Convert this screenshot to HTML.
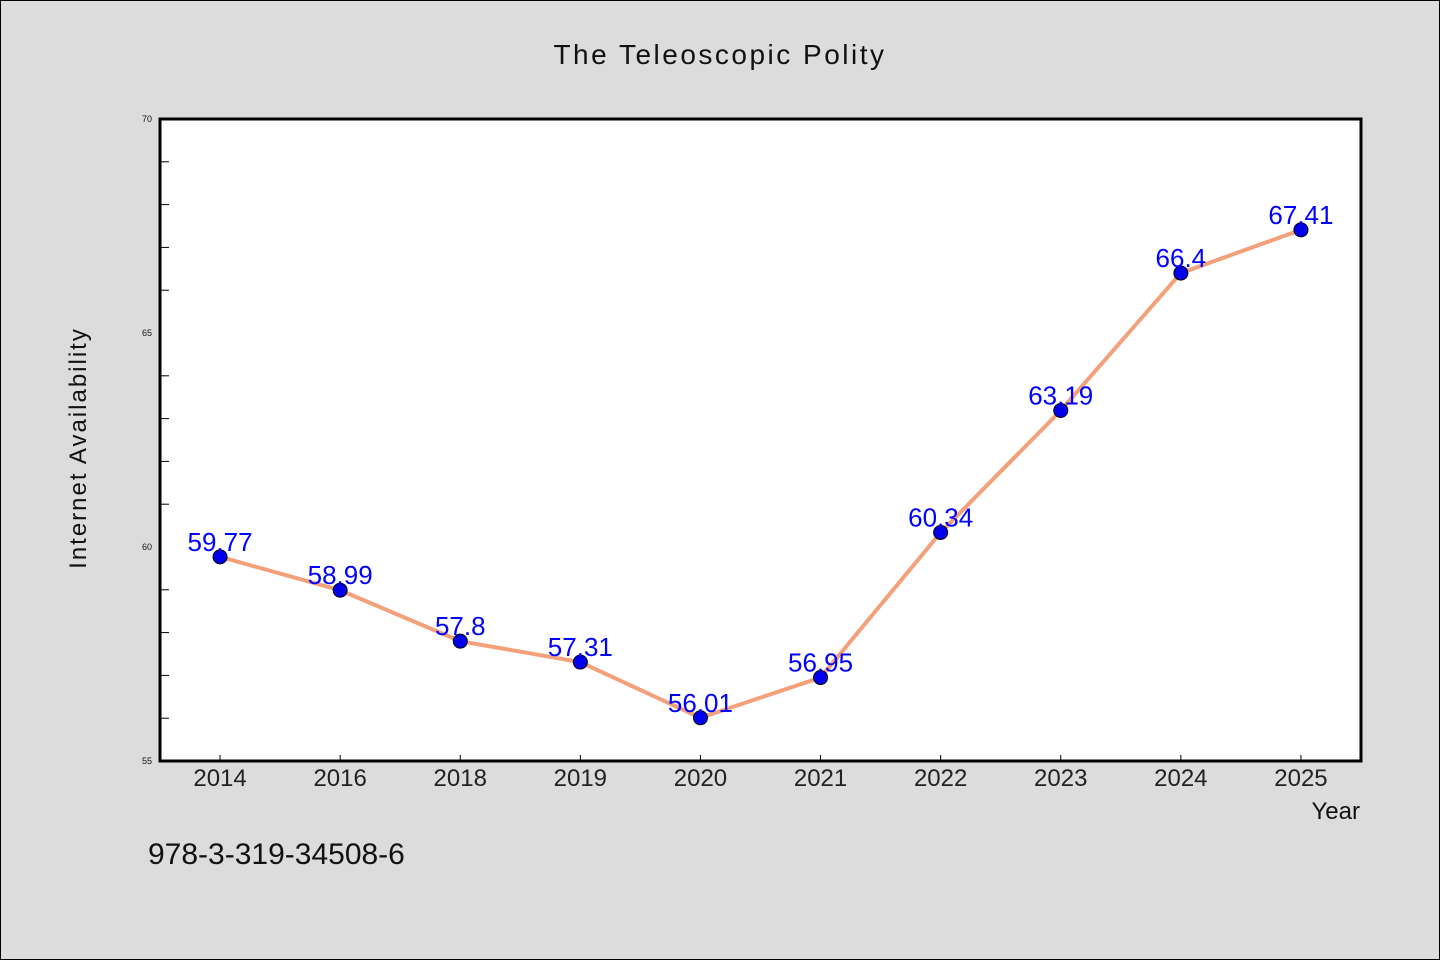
<!DOCTYPE html>
<html><head><meta charset="utf-8"><style>
body{margin:0;background:#dcdcdc;}
svg{display:block;font-family:"WenQuanYi Zen Hei","Liberation Sans",sans-serif;}
</style></head><body>
<svg id="chart" width="1440" height="960" xmlns="http://www.w3.org/2000/svg">
<rect x="0.5" y="0.5" width="1439" height="959" fill="#dcdcdc" stroke="#000"/>
<text x="720" y="64" text-anchor="middle" font-size="28" letter-spacing="2.5" fill="#111">The Teleoscopic Polity</text>
<rect x="160" y="119" width="1201" height="642" fill="#fff"/>
<g id="axes"></g>
<g id="marks"></g>
<rect x="160" y="119" width="1201" height="642" fill="none" stroke="#000" stroke-width="3"/>
<text x="86" y="448" text-anchor="middle" font-size="24" letter-spacing="2" fill="#111" transform="rotate(-90 86 448)">Internet Availability</text>
<text x="1360" y="819" text-anchor="end" font-size="24" fill="#111">Year</text>
<text x="148" y="864" font-size="30" fill="#111">978-3-319-34508-6</text>
</svg>
<script>
const categories=["2014","2016","2018","2019","2020","2021","2022","2023","2024","2025"];
const values=[59.77,58.99,57.8,57.31,56.01,56.95,60.34,63.19,66.4,67.41];
const valueLabels=["59.77","58.99","57.8","57.31","56.01","56.95","60.34","63.19","66.4","67.41"];
const yTicks=[55,60,65,70];
const yMin=55,yMax=70,L=160,R=1361,T=119,B=761;
const NS="http://www.w3.org/2000/svg";
function xs(i){return L+(R-L)/categories.length*(i+0.5);}
function ys(v){return B-(v-yMin)/(yMax-yMin)*(B-T);}
function mk(tag,attrs,parent){const e=document.createElementNS(NS,tag);for(const k in attrs)e.setAttribute(k,attrs[k]);parent.appendChild(e);return e;}
const axes=document.getElementById('axes'),marks=document.getElementById('marks');
for(let v=yMin+1;v<yMax;v++){
  if(yTicks.includes(v))continue;
  const t=mk('line',{x1:L,x2:L+9,y1:ys(v),y2:ys(v),stroke:'#000','stroke-width':1},axes);
  
  
}
yTicks.forEach(v=>{
  const t=mk('text',{x:L-8,y:ys(v)+3,'text-anchor':'end','font-size':9,fill:'#111'},axes);
  t.textContent=v;
  
  
});
categories.forEach((c,i)=>{
  const t=mk('line',{x1:xs(i),x2:xs(i),y1:B,y2:B-6,stroke:'#000','stroke-width':1},axes);
  
  
  const l=mk('text',{x:xs(i),y:B+25,'text-anchor':'middle','font-size':24,fill:'#222'},axes);
  l.textContent=c;
  
  
});
const line=mk('polyline',{points:values.map((v,i)=>xs(i)+','+ys(v)).join(' '),fill:'none',stroke:'#f4a07a','stroke-width':4},marks);


values.forEach((v,i)=>{
  const p=mk('circle',{cx:xs(i),cy:ys(v),r:7,fill:'#0000ee',stroke:'#000','stroke-width':1},marks);
  
  
  const t=mk('text',{x:xs(i),y:ys(v)-6,'text-anchor':'middle','font-size':26,fill:'#0000ff'},marks);
  t.textContent=valueLabels[i];
  
  
});
</script>
</body></html>
